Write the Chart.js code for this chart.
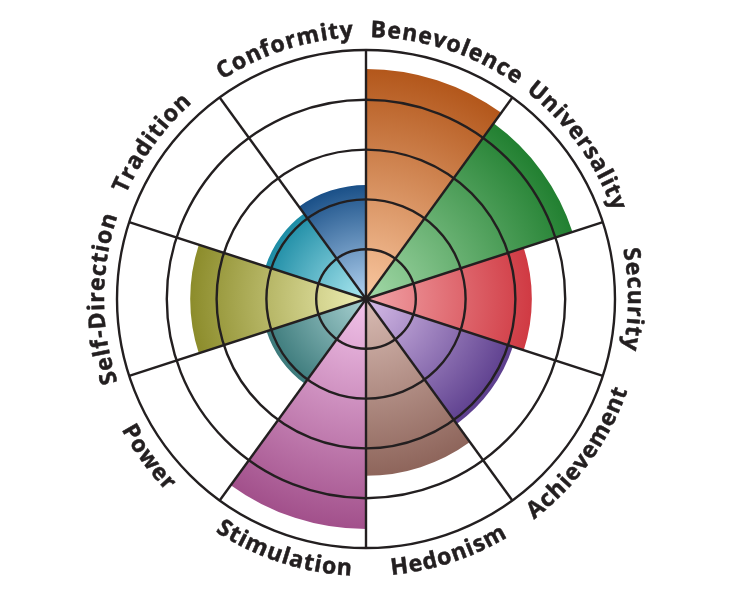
<!DOCTYPE html>
<html>
<head>
<meta charset="utf-8">
<script src="https://cdn.jsdelivr.net/npm/chart.js@4/dist/chart.umd.min.js"></script>
<style>
  html, body { margin: 0; padding: 0; background: #ffffff; }
  #wrap { width: 732px; height: 600px; }
</style>
</head>
<body>
<div id="wrap"><canvas id="c" width="732" height="600"></canvas></div>
<script>
// ---- data ----
const categories = ['Benevolence', 'Universality', 'Security', 'Achievement', 'Hedonism',
                    'Stimulation', 'Power', 'Self-Direction', 'Tradition', 'Conformity'];
const scores = [4.62, 4.36, 3.33, 3.1, 3.55, 4.62, 2.1, 3.53, 2.12, 2.29];
const ringTicks = [0, 1, 2, 3, 4, 5];
const innerColors = ['#f9c7a0', '#a3d9a8', '#f2a4a8', '#d6bce8', '#d9bcb4',
                     '#f2c4ea', '#a9d2d2', '#eeeeb4', '#ade9f1', '#b3d3f1'];
const outerColors = ['#b3571b', '#228031', '#d03a43', '#5d3f8e', '#8e655b',
                     '#a2508b', '#3c7a7b', '#8c8c2b', '#1d8ca5', '#1a5088'];

const lineColor = '#231f20';

const curvedLabels = {
  id: 'curvedLabels',
  afterDraw(chart) {
    const scale = chart.scales.r;
    const ctx = chart.ctx;
    const cx = scale.xCenter, cy = scale.yCenter;
    const R = scale.drawingArea;
    const n = categories.length;
    const spacing = 1.0;
    ctx.save();
    ctx.font = 'bold 23px "Open Sans"';
    ctx.fillStyle = lineColor;
    ctx.strokeStyle = lineColor;
    ctx.lineWidth = 0.5;
    ctx.textAlign = 'center';
    ctx.textBaseline = 'alphabetic';
    for (let i = 0; i < n; i++) {
      const text = categories[i];
      const thetaDeg = (i + 0.5) * 360 / n;
      const phi = (thetaDeg - 90) * Math.PI / 180;
      const chars = [...text];
      const widths = chars.map(ch => ctx.measureText(ch).width);
      const total = widths.reduce((a, b) => a + b, 0) + spacing * (chars.length - 1);
      const bottom = thetaDeg > 90 && thetaDeg < 270;
      const rad = bottom ? R + 28 : R + 13;
      const span = total / rad;
      let off = 0;
      for (let k = 0; k < chars.length; k++) {
        const mid = off + widths[k] / 2;
        let a, rot;
        if (bottom) {
          a = phi + span / 2 - mid / rad;
          rot = a - Math.PI / 2;
        } else {
          a = phi - span / 2 + mid / rad;
          rot = a + Math.PI / 2;
        }
        ctx.save();
        ctx.translate(cx + rad * Math.cos(a), cy + rad * Math.sin(a));
        ctx.rotate(rot);
        ctx.fillText(chars[k], 0, 0);
        ctx.strokeText(chars[k], 0, 0);
        ctx.restore();
        off += widths[k] + spacing;
      }
    }
    ctx.restore();
  }
};

new Chart(document.getElementById('c'), {
  type: 'polarArea',
  data: {
    labels: categories,
    datasets: [{
      data: scores,
      borderWidth: 0,
      backgroundColor: (c) => {
        const chart = c.chart;
        const scale = chart.scales && chart.scales.r;
        const i = c.dataIndex;
        if (!chart.chartArea || !scale || i === undefined) return outerColors[i || 0];
        const r = Math.max(1, scale.getDistanceFromCenterForValue(scores[i]));
        const g = chart.ctx.createRadialGradient(scale.xCenter, scale.yCenter, 0,
                                                 scale.xCenter, scale.yCenter, r);
        g.addColorStop(0, innerColors[i]);
        g.addColorStop(1, outerColors[i]);
        return g;
      }
    }]
  },
  options: {
    responsive: false,
    animation: false,
    devicePixelRatio: 1,
    layout: { padding: { top: 50, bottom: 52, left: 0, right: 0 } },
    plugins: { legend: { display: false }, tooltip: { enabled: false } },
    scales: {
      r: {
        min: 0,
        max: 5,
        startAngle: 0,
        afterBuildTicks: (s) => { s.ticks = ringTicks.map(v => ({ value: v })); },
        ticks: { display: false, stepSize: 1 },
        grid: { circular: true, color: lineColor, lineWidth: 2.4, z: 1 },
        angleLines: { display: true, color: lineColor, lineWidth: 2.4 },
        pointLabels: { display: false }
      }
    }
  },
  plugins: [curvedLabels]
});
</script>
</body>
</html>
